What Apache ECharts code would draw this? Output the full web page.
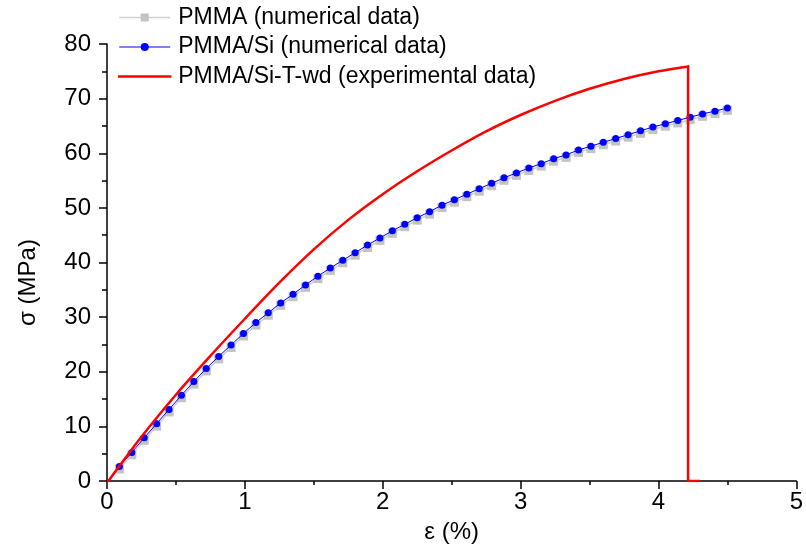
<!DOCTYPE html>
<html>
<head>
<meta charset="utf-8">
<script src="https://cdn.jsdelivr.net/npm/echarts@6/dist/echarts.min.js"></script>
<style>
html,body{margin:0;padding:0;background:#fff;}
#chart{width:806px;height:549px;}
</style>
</head>
<body>
<div id="chart"></div>
<script>
// strain (%) of the numerical data points
var strainNum = [0.09,0.18,0.27,0.36,0.45,0.54,0.63,0.72,0.81,0.90,
  0.99,1.08,1.17,1.26,1.35,1.44,1.53,1.62,1.71,1.80,
  1.89,1.98,2.07,2.16,2.25,2.34,2.43,2.52,2.61,2.70,
  2.79,2.88,2.97,3.06,3.15,3.24,3.33,3.42,3.51,3.60,
  3.69,3.78,3.87,3.96,4.05,4.14,4.23,4.32,4.41,4.50];
// PMMA/Si (numerical data) stress, MPa
var stressPmmaSi = [2.65,5.24,7.9,10.5,13.1,15.7,18.2,20.6,22.8,24.9,
  27.0,29.0,30.8,32.6,34.2,35.9,37.5,39.0,40.4,41.8,
  43.2,44.5,45.8,47.0,48.2,49.3,50.5,51.5,52.5,53.5,
  54.5,55.5,56.4,57.3,58.1,59.0,59.7,60.6,61.3,62.0,
  62.7,63.4,64.1,64.8,65.4,66.0,66.6,67.2,67.7,68.3];
// PMMA (numerical data) stress, MPa
var stressPmma = [2.2,4.8,7.45,10.05,12.65,15.25,17.75,20.15,22.35,24.45,
  26.55,28.55,30.35,32.15,33.75,35.45,37.05,38.55,39.95,41.35,
  42.75,44.05,45.35,46.55,47.75,48.85,50.05,51.05,52.05,53.05,
  54.05,55.05,55.95,56.85,57.65,58.55,59.25,60.15,60.85,61.55,
  62.25,62.95,63.65,64.35,64.95,65.55,66.15,66.75,67.25,67.85];
// PMMA/Si-T-wd (experimental data): loading curve
var strainExp = [0.01,0.25,0.5,0.75,1.0,1.25,1.5,1.75,2.0,2.25,2.5,2.75,3.0,3.25,3.5,3.75,4.0,4.215];
var stressExp = [0,8.1,15.8,22.9,29.7,36.3,42.4,47.8,52.5,56.7,60.5,64.0,67.0,69.6,71.8,73.6,75.0,75.9];
// PMMA/Si-T-wd (experimental data): fracture drop
var strainDrop = [4.215,4.215,4.30];
var stressDrop = [75.9,0,0];

var seriesNames = ['PMMA (numerical data)','PMMA/Si (numerical data)','PMMA/Si-T-wd (experimental data)'];
var xTicks = {min:0, max:5, interval:1};
var yTicks = {min:0, max:80, interval:10};

function pairs(xs, ys){ return xs.map(function(x,i){ return [x, ys[i]]; }); }

var FONT = 'Liberation Sans, Arial, sans-serif';
var chart = echarts.init(document.getElementById('chart'), null, {renderer:'canvas'});
chart.setOption({
  animation:false,
  backgroundColor:'#ffffff',
  grid:{left:107, right:9, top:44, bottom:62, containLabel:false},
  legend:{
    orient:'vertical', left:118, top:6, itemGap:6.5, padding:0,
    itemWidth:51, itemHeight:10, selectedMode:false,
    textStyle:{fontFamily:FONT, fontSize:23, lineHeight:22, color:'#000', padding:[0,0,0,3]},
    data:[
      {name:seriesNames[0], lineStyle:{width:1.5}},
      {name:seriesNames[1], lineStyle:{width:1}},
      {name:seriesNames[2], lineStyle:{width:2.5}, itemStyle:{opacity:0}}
    ]
  },
  xAxis:{
    type:'value', min:xTicks.min, max:xTicks.max, interval:xTicks.interval,
    name:'ε (%)', nameLocation:'middle', nameGap:39,
    nameTextStyle:{fontFamily:FONT, fontSize:24, color:'#000'},
    axisLine:{show:true, onZero:false, lineStyle:{color:'#000', width:1.5}},
    axisTick:{show:true, inside:false, length:8, lineStyle:{color:'#000', width:1.5}},
    minorTick:{show:true, splitNumber:2, length:4, lineStyle:{color:'#000', width:1.5}},
    axisLabel:{fontFamily:FONT, fontSize:24, color:'#000', margin:9},
    splitLine:{show:false}
  },
  yAxis:{
    type:'value', min:yTicks.min, max:yTicks.max, interval:yTicks.interval,
    name:'σ (MPa)', nameLocation:'middle', nameGap:67, nameRotate:90,
    nameTextStyle:{fontFamily:FONT, fontSize:24, color:'#000', padding:[0,40,0,0]},
    axisLine:{show:true, onZero:false, lineStyle:{color:'#000', width:1.5}},
    axisTick:{show:true, inside:false, length:8, lineStyle:{color:'#000', width:1.5}},
    minorTick:{show:true, splitNumber:2, length:5, lineStyle:{color:'#000', width:1.5}},
    axisLabel:{fontFamily:FONT, fontSize:24, color:'#000', margin:16},
    splitLine:{show:false}
  },
  series:[
    {
      name:seriesNames[0], type:'line', data:pairs(strainNum, stressPmma),
      symbol:'rect', symbolSize:9, showSymbol:true,
      itemStyle:{color:'#c3c3c3'},
      lineStyle:{color:'#cfcfcf', width:1.5},
      z:2
    },
    {
      name:seriesNames[1], type:'line', data:pairs(strainNum, stressPmmaSi),
      symbol:'circle', symbolSize:7, showSymbol:true,
      itemStyle:{color:'#0000ff'},
      lineStyle:{color:'#0000ff', width:1},
      z:3
    },
    {
      name:seriesNames[2], type:'line', data:pairs(strainExp, stressExp),
      symbol:'none', showSymbol:false, smooth:0.3,
      itemStyle:{color:'#ff0000'},
      lineStyle:{color:'#ff0000', width:2.5, cap:'square'},
      z:4
    },
    {
      name:seriesNames[2], type:'line', data:pairs(strainDrop, stressDrop),
      symbol:'none', showSymbol:false,
      itemStyle:{color:'#ff0000'},
      lineStyle:{color:'#ff0000', width:2.5},
      z:4
    }
  ]
});
</script>
</body>
</html>
